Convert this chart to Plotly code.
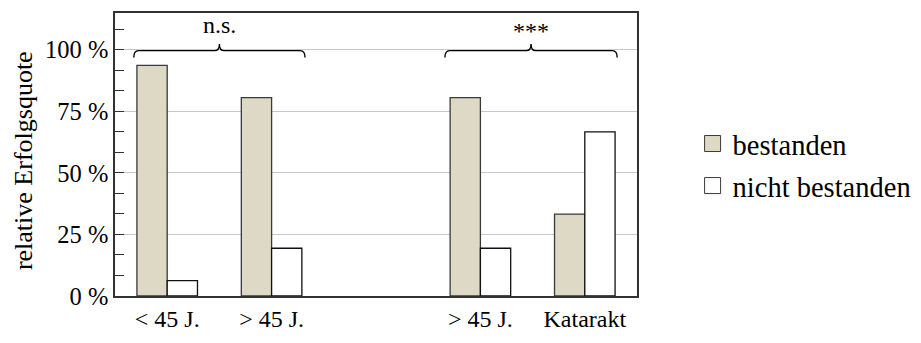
import plotly.graph_objects as go

# Data
x_positions = [0, 1, 3, 4]
bar_labels = ["< 45 J.", "> 45 J.", "> 45 J.", "Katarakt"]
bestanden = [93.75, 80.6, 80.6, 33.3]
nicht_bestanden = [6.25, 19.4, 19.4, 66.7]
y_tickvals = [0, 25, 50, 75, 100]
y_ticktext = ["0 %", "25 %", "50 %", "75 %", "100 %"]
brackets = [(-0.32, 1.32, "n.s."), (2.66, 4.31, "***")]

FONT = "Liberation Serif, Times New Roman, serif"
TAN = "#ddd9c4"

fig = go.Figure()
fig.add_trace(go.Bar(x=x_positions, y=bestanden, name="bestanden", showlegend=False,
                     marker=dict(color=TAN, line=dict(color="#3a3a3a", width=1.3))))
fig.add_trace(go.Bar(x=x_positions, y=nicht_bestanden, name="nicht bestanden", showlegend=False,
                     marker=dict(color="white", line=dict(color="#111111", width=1.3))))
# legend entries
fig.add_trace(go.Scatter(x=[None], y=[None], mode="markers", name="bestanden", legendgroup="a",
                         marker=dict(symbol="square", size=16, color=TAN,
                                     line=dict(color="#3a3a3a", width=1))))
fig.add_trace(go.Scatter(x=[None], y=[None], mode="markers", name="nicht bestanden", legendgroup="b",
                         marker=dict(symbol="square", size=16, color="white",
                                     line=dict(color="#3a3a3a", width=1))))

shapes = []
annotations = []
y_line = 99.7
for x0, x1, label in brackets:
    xc = (x0 + x1) / 2
    r = 0.045
    path = (f"M {x0},{y_line-2.8} Q {x0},{y_line} {x0+r},{y_line} "
            f"L {xc-r},{y_line} Q {xc},{y_line} {xc},{y_line+2.7} "
            f"Q {xc},{y_line} {xc+r},{y_line} "
            f"L {x1-r},{y_line} Q {x1},{y_line} {x1},{y_line-2.8}")
    shapes.append(dict(type="path", path=path, xref="x", yref="y",
                       line=dict(color="black", width=1.4)))
    annotations.append(dict(x=xc, y=110 if label == "n.s." else 107.8, xref="x", yref="y",
                            text=label, showarrow=False,
                            font=dict(family=FONT, size=24, color="black")))

# y-axis title as rotated annotation
annotations.append(dict(x=(23 - 115) / 522, y=(311 - 168) / 300, xref="paper", yref="paper",
                        text="relative Erfolgsquote", textangle=-90, showarrow=False,
                        xanchor="center", yanchor="middle",
                        font=dict(family=FONT, size=26, color="black")))

fig.update_layout(
    width=921, height=343,
    margin=dict(l=115, r=284, t=11, b=32),
    paper_bgcolor="white", plot_bgcolor="white",
    barmode="group", bargap=0.42, bargroupgap=0,
    font=dict(family=FONT, size=24, color="black"),
    shapes=shapes, annotations=annotations,
    legend=dict(x=0.752, xref="container", xanchor="left",
                y=1 - 165 / 343, yref="container", yanchor="middle",
                font=dict(family=FONT, size=28.5, color="black"),
                bgcolor="rgba(0,0,0,0)", tracegroupgap=2),
    showlegend=True,
)
fig.update_xaxes(range=[-0.5, 4.5], tickmode="array", tickvals=[0, 1, 3, 4],
                 ticktext=bar_labels, showgrid=False, zeroline=False,
                 showline=True, linecolor="#333333", linewidth=1.5, mirror=True,
                 ticks="", tickfont=dict(family=FONT, size=24))
fig.update_yaxes(range=[0, 115], tickmode="array", tickvals=y_tickvals, ticktext=y_ticktext,
                 showgrid=True, gridcolor="#c8c8c8", gridwidth=1, zeroline=False,
                 showline=True, linecolor="#333333", linewidth=1.5, mirror=True,
                 ticks="inside", ticklen=9, tickcolor="#333333",
                 minor=dict(tickmode="linear", tick0=0, dtick=100/12, ticks="inside",
                            ticklen=9, tickcolor="#333333", showgrid=False),
                 tickfont=dict(family=FONT, size=24.5))

fig.write_html("out.html")
